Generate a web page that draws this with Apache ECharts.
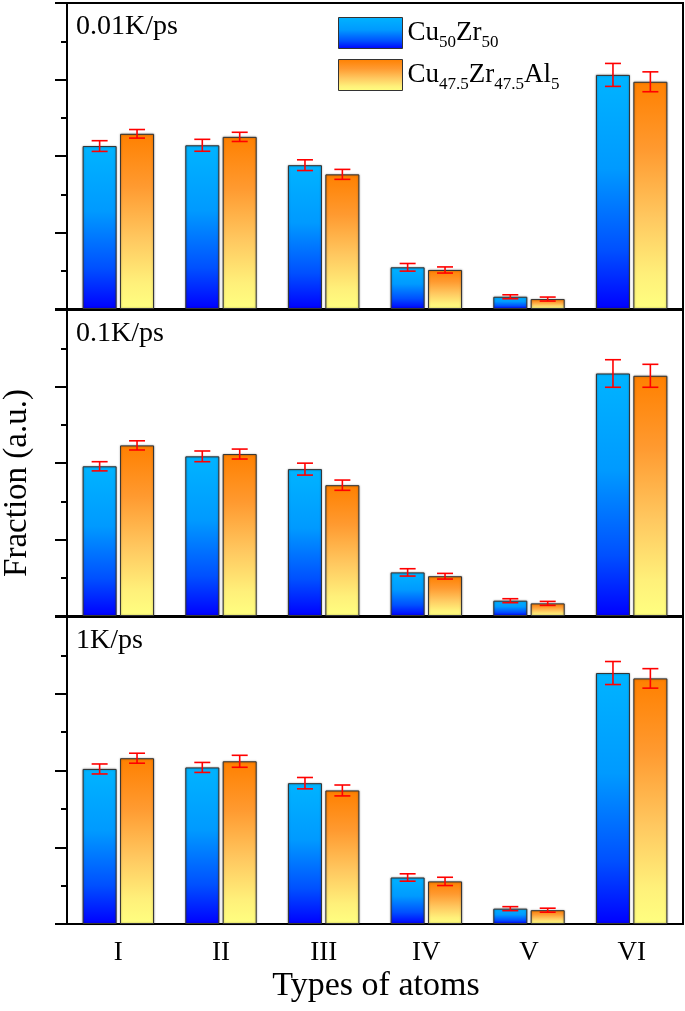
<!DOCTYPE html>
<html>
<head>
<meta charset="utf-8">
<script src="https://cdn.jsdelivr.net/npm/echarts@6/dist/echarts.min.js"></script>
<style>html,body{margin:0;padding:0;background:#fff;}#c{width:685px;height:1011px;}</style>
</head>
<body>
<div id="c"></div>
<script>
// ---- data ----
var categories = ['I', 'II', 'III', 'IV', 'V', 'VI'];
var seriesNames = ['Cu50Zr50', 'Cu47.5Zr47.5Al5'];
var panelLabels = ['0.01K/ps', '0.1K/ps', '1K/ps'];
// panel 1: 0.01 K/ps
var cuzr_p1 = [2.13, 2.14, 1.88, 0.545, 0.16, 3.06];
var cuzr_p1_err = [0.07, 0.078, 0.07, 0.05, 0.026, 0.15];
var cuzral_p1 = [2.29, 2.25, 1.76, 0.51, 0.13, 2.97];
var cuzral_p1_err = [0.056, 0.06, 0.065, 0.04, 0.026, 0.13];
// panel 2: 0.1 K/ps
var cuzr_p2 = [1.957, 2.087, 1.92, 0.57, 0.2, 3.17];
var cuzr_p2_err = [0.06, 0.07, 0.078, 0.048, 0.026, 0.18];
var cuzral_p2 = [2.23, 2.117, 1.71, 0.52, 0.165, 3.14];
var cuzral_p2_err = [0.06, 0.065, 0.067, 0.037, 0.026, 0.15];
// panel 3: 1 K/ps
var cuzr_p3 = [2.02, 2.04, 1.835, 0.606, 0.2, 3.27];
var cuzr_p3_err = [0.065, 0.065, 0.074, 0.048, 0.026, 0.15];
var cuzral_p3 = [2.16, 2.12, 1.74, 0.555, 0.18, 3.2];
var cuzral_p3_err = [0.065, 0.078, 0.071, 0.054, 0.026, 0.127];

var panels = [
  {a: cuzr_p1, ae: cuzr_p1_err, b: cuzral_p1, be: cuzral_p1_err},
  {a: cuzr_p2, ae: cuzr_p2_err, b: cuzral_p2, be: cuzral_p2_err},
  {a: cuzr_p3, ae: cuzr_p3_err, b: cuzral_p3, be: cuzral_p3_err}
];

var FONT = '"Liberation Serif", "Times New Roman", serif';
var blueGrad = new echarts.graphic.LinearGradient(0, 0, 0, 1, [
  {offset: 0, color: '#00B4FF'},
  {offset: 0.4, color: '#009AFF'},
  {offset: 0.75, color: '#0050FF'},
  {offset: 1, color: '#0000FF'}
]);
var orangeGrad = new echarts.graphic.LinearGradient(0, 0, 0, 1, [
  {offset: 0, color: '#FF8000'},
  {offset: 0.3, color: '#FF9A30'},
  {offset: 0.6, color: '#FFC860'},
  {offset: 0.85, color: '#FFF07A'},
  {offset: 1, color: '#FFFF80'}
]);

var gridTops = [3, 310, 617];
var gridHeights = [306, 306, 307];
var grids = [], xAxes = [], yAxes = [], series = [];

function errSeries(name, gi, vals, errs, offset) {
  var data = vals.map(function (v, i) { return [i, v, errs[i]]; });
  return {
    type: 'custom', name: name + '_err', xAxisIndex: gi, yAxisIndex: gi, z: 10,
    data: data, silent: true,
    renderItem: function (params, api) {
      var i = api.value(0), v = api.value(1), e = api.value(2);
      var hi = api.coord([i, v + e]), lo = api.coord([i, v - e]);
      var x = hi[0] + offset, hw = 8;
      var st = {stroke: '#FF0000', lineWidth: 1.6};
      return {type: 'group', children: [
        {type: 'line', shape: {x1: x, y1: hi[1], x2: x, y2: lo[1]}, style: st},
        {type: 'line', shape: {x1: x - hw, y1: hi[1], x2: x + hw, y2: hi[1]}, style: st},
        {type: 'line', shape: {x1: x - hw, y1: lo[1], x2: x + hw, y2: lo[1]}, style: st}
      ]};
    }
  };
}

panels.forEach(function (p, gi) {
  grids.push({left: 67, right: 2, top: gridTops[gi], height: gridHeights[gi], show: true,
    borderColor: '#000', borderWidth: 2, backgroundColor: 'transparent'});
  xAxes.push({type: 'category', gridIndex: gi, data: categories, boundaryGap: true,
    axisLine: {lineStyle: {color: '#000', width: 2}}, axisTick: {show: false},
    axisLabel: {show: gi === 2, fontFamily: FONT, fontSize: 27, color: '#000', margin: 15}});
  yAxes.push({type: 'value', gridIndex: gi, min: 0, max: 4, interval: 1,
    axisLine: {show: true, lineStyle: {color: '#000', width: 2}},
    axisTick: {show: true, inside: false, length: 12, lineStyle: {color: '#000', width: 2}},
    minorTick: {show: true, splitNumber: 2, length: 6, lineStyle: {color: '#000', width: 2}},
    axisLabel: {show: false}, splitLine: {show: false}});
  var barStyle = {borderColor: '#333', borderWidth: 1, shadowBlur: 2, shadowColor: 'rgba(0,0,0,0.35)'};
  series.push({type: 'bar', name: seriesNames[0], xAxisIndex: gi, yAxisIndex: gi, data: p.a,
    barWidth: 34, barGap: '10%', itemStyle: Object.assign({color: blueGrad}, barStyle)});
  series.push({type: 'bar', name: seriesNames[1], xAxisIndex: gi, yAxisIndex: gi, data: p.b,
    barWidth: 34, barGap: '10%', itemStyle: Object.assign({color: orangeGrad}, barStyle)});
  series.push(errSeries(seriesNames[0], gi, p.a, p.ae, -18.7));
  series.push(errSeries(seriesNames[1], gi, p.b, p.be, 18.7));
});

function legendFmt(name) {
  if (name === 'Cu50Zr50') return '{m|Cu}{s|50}{m|Zr}{s|50}';
  return '{m|Cu}{s|47.5}{m|Zr}{s|47.5}{m|Al}{s|5}';
}
var legendText = {fontFamily: FONT, color: '#000', rich: {
  m: {fontFamily: FONT, fontSize: 27, color: '#000', padding: [0, 0, 0, 0]},
  s: {fontFamily: FONT, fontSize: 17, color: '#000', padding: [20, 0, 0, 0]}
}};
var legendItemStyle = {borderColor: '#333', borderWidth: 1, shadowBlur: 0};

var graphics = panelLabels.map(function (t, i) {
  return {type: 'text', left: 76, top: [13, 320, 627][i],
    style: {text: t, font: '28px ' + FONT, fill: '#000'}};
});
graphics.push({type: 'text', x: 17, y: 483, rotation: Math.PI / 2,
  style: {text: 'Fraction (a.u.)', font: '33px ' + FONT, fill: '#000', align: 'center', verticalAlign: 'middle'}});
graphics.push({type: 'text', x: 376, y: 986,
  style: {text: 'Types of atoms', font: '34px ' + FONT, fill: '#000', align: 'center', verticalAlign: 'middle'}});

var chart = echarts.init(document.getElementById('c'));
chart.setOption({
  animation: false,
  backgroundColor: '#fff',
  grid: grids, xAxis: xAxes, yAxis: yAxes, series: series,
  legend: [
    {data: [seriesNames[0]], icon: 'rect', left: 333, top: 12, itemWidth: 64, itemHeight: 31, itemGap: 6,
      formatter: legendFmt, textStyle: legendText, itemStyle: legendItemStyle, selectedMode: false},
    {data: [seriesNames[1]], icon: 'rect', left: 333, top: 54, itemWidth: 64, itemHeight: 31, itemGap: 6,
      formatter: legendFmt, textStyle: legendText, itemStyle: legendItemStyle, selectedMode: false}
  ],
  graphic: graphics
});
</script>
</body>
</html>
